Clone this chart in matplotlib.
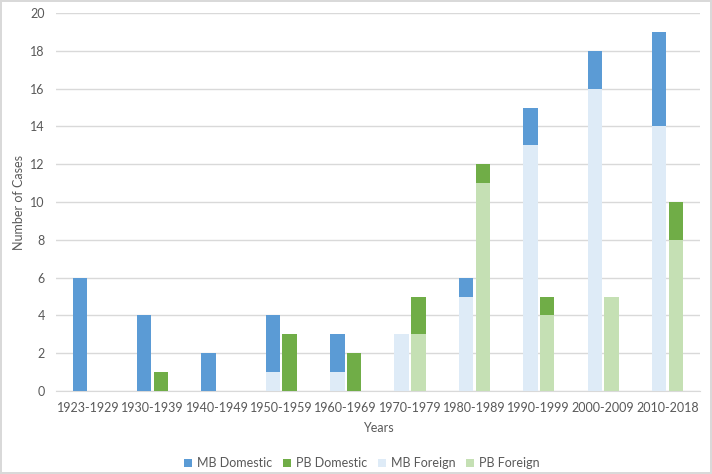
import numpy as np
import matplotlib.pyplot as plt

years = ['1923-1929', '1930-1939', '1940-1949', '1950-1959', '1960-1969',
         '1970-1979', '1980-1989', '1990-1999', '2000-2009', '2010-2018']
mb_foreign = [0, 0, 0, 1, 1, 3, 5, 13, 16, 14]
mb_domestic = [6, 4, 2, 3, 2, 0, 1, 2, 2, 5]
pb_foreign = [0, 0, 0, 0, 0, 3, 11, 4, 5, 8]
pb_domestic = [0, 1, 0, 3, 2, 2, 1, 1, 0, 2]

plt.rcParams['font.family'] = ['Lato', 'DejaVu Sans']
txt = '#595959'

fig = plt.figure(figsize=(7.12, 4.74), dpi=100)
fig.patch.set_edgecolor('#d9d9d9')
fig.patch.set_linewidth(1.5)
ax = fig.add_axes([0.0787, 0.175, 0.904, 0.7975])

x = np.arange(len(years))
w = 0.225
off = 0.13
ax.bar(x - off, mb_domestic, w, bottom=mb_foreign, color='#5b9bd5', label='MB Domestic', zorder=3)
ax.bar(x + off, pb_domestic, w, bottom=pb_foreign, color='#70ad47', label='PB Domestic', zorder=3)
ax.bar(x - off, mb_foreign, w, color='#deebf7', label='MB Foreign', zorder=3)
ax.bar(x + off, pb_foreign, w, color='#c5e0b4', label='PB Foreign', zorder=3)

ax.set_xlim(-0.5, len(years) - 0.5)
ax.set_ylim(0, 20)
ax.set_yticks(range(0, 21, 2))
ax.set_xticks(x)
ax.set_xticklabels(years)
ax.yaxis.grid(True, color='#d9d9d9', linewidth=1, zorder=0)
for s in ['top', 'right', 'left']:
    ax.spines[s].set_visible(False)
ax.spines['bottom'].set_color('#d9d9d9')
ax.tick_params(length=0, labelsize=9, colors=txt, pad=8)
ax.set_xlabel('Years', fontsize=9, color=txt, labelpad=6)
ax.set_ylabel('Number of Cases', fontsize=9, color=txt, labelpad=4)

ax.legend(loc='upper center', bbox_to_anchor=(0.475, -0.145), ncol=4, frameon=False,
          fontsize=9, labelcolor=txt, handlelength=0.6, handleheight=0.6,
          columnspacing=0.9, handletextpad=0.4)

fig.savefig('out.png', dpi=100)
